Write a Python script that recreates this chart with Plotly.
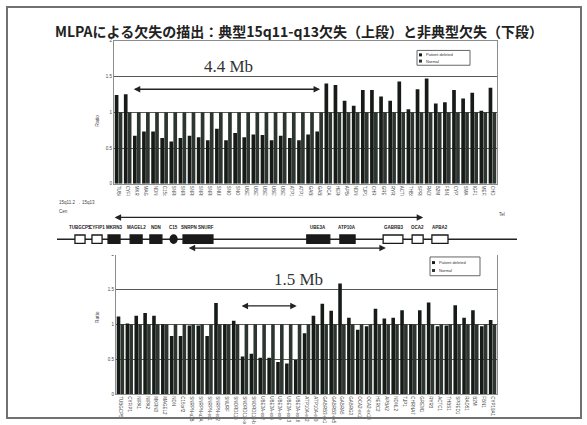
import plotly.graph_objects as go

W, H = 587, 425

# ---------------- MLPA data ----------------
top_probes = [
    "TUBGCP5", "CYFIP1", "MKRN3", "MAGEL2", "NDN", "C15orf2", "SNRPN-u1B",
    "SNRPN-u1A", "SNRPN-ex1", "SNRPN-ex2", "SNRPN-ex3", "SNURF", "SNORD116",
    "SNORD115", "UBE3A-ex2", "UBE3A-ex4", "UBE3A-ex9", "UBE3A-ex13",
    "UBE3A-ex16", "ATP10A-ex2", "ATP10A-ex9", "GABRB3-ex1", "GABRB3-ex5",
    "OCA2", "HERC2", "APBA2", "NDNL2", "TJP1", "CHRNA7", "GREM1", "RYR3",
    "ACTC1", "THBS1", "SPRED1", "RAD51", "B2M", "FBN1", "CYP19A1", "SMAD3",
    "IGF1R", "MEF2A", "CHD2",
]
top_patient = [
    1.24, 1.25, 0.67, 0.73, 0.73, 0.64, 0.59, 0.64, 0.67, 0.65, 0.61, 0.77,
    0.61, 0.71, 0.65, 0.69, 0.68, 0.61, 0.67, 0.64, 0.61, 0.69, 0.73,
    1.40, 1.38, 1.16, 1.09, 1.31, 1.31, 1.22, 1.16, 1.43, 1.04, 1.32, 1.47,
    1.12, 1.14, 1.31, 1.19, 1.27, 1.02, 1.34,
]
top_normal = [
    1.0, 1.0, 1.0, 1.0, 1.0, 1.0, 1.0, 1.0, 1.0, 1.0, 1.0, 1.0, 1.0, 1.0,
    1.0, 1.0, 1.0, 1.0, 1.0, 1.0, 1.0, 1.0, 1.0, 1.0, 1.0, 1.0, 1.0, 1.0,
    1.0, 1.0, 1.0, 1.0, 1.0, 1.0, 1.0, 1.0, 1.0, 1.0, 1.0, 1.0, 1.0, 1.0,
]

bottom_probes = [
    "TUBGCP5", "CYFIP1", "NIPA1", "NIPA2", "MKRN3", "MAGEL2", "NDN",
    "C15orf2", "SNRPN-u1B", "SNRPN-u1A", "SNRPN-ex1", "SNRPN-ex2", "SNURF",
    "SNORD116", "SNORD115-a", "SNORD115-b", "UBE3A-ex2", "UBE3A-ex4",
    "UBE3A-ex9", "UBE3A-ex13", "UBE3A-ex16", "ATP10A-ex2", "ATP10A-ex9",
    "GABRB3-ex1", "GABRB3-ex5", "GABRA5", "GABRG3", "OCA2-ex1", "OCA2-ex10",
    "HERC2", "APBA2", "NDNL2", "TJP1", "CHRNA7", "GREM1", "RYR3", "ACTC1",
    "THBS1", "SPRED1", "RAD51", "B2M", "FBN1", "CYP19A1",
]
bottom_patient = [
    1.11, 1.01, 1.12, 1.16, 1.12, 1.00, 0.83, 0.83, 0.98, 0.98, 0.83, 1.30,
    1.00, 1.05, 0.54, 0.58, 0.52, 0.52, 0.46, 0.44, 0.49, 0.87, 1.12, 1.29,
    1.19, 1.58, 1.09, 0.92, 0.97, 1.22, 1.08, 1.09, 1.20, 1.00, 1.20, 1.31,
    0.97, 0.98, 1.27, 1.09, 1.20, 0.97, 1.06,
]
bottom_normal = [
    1.0, 1.0, 1.0, 1.0, 1.0, 1.0, 1.0, 1.0, 1.0, 1.0, 1.0, 1.0, 1.0, 1.0,
    1.0, 1.0, 1.0, 1.0, 1.0, 1.0, 1.0, 1.0, 1.0, 1.0, 1.0, 1.0, 1.0, 1.0,
    1.0, 1.0, 1.0, 1.0, 1.0, 1.0, 1.0, 1.0, 1.0, 1.0, 1.0, 1.0, 1.0, 1.0,
    1.0,
]

y_ticks = [0, 0.5, 1, 1.5, 2]
y_ticktext = ["0", "0.5", "1", "1.5", "2"]

series_names = ["Patient deleted", "Normal"]

# deletion extents (category index from, to, ratio level) and their labels
top_span = (1.5, 22.1, 1.32)
top_span_label = "4.4 Mb"
bottom_span = (13.5, 19.9, 1.26)
bottom_span_label = "1.5 Mb"

# ---------------- 15q11-q13 gene map (schematic, map units 0-100) ----------------
gene_names = ["TUBGCP5", "CYFIP1", "MKRN3", "MAGEL2", "NDN", "C15", "SNRPN SNURF",
              "UBE3A", "ATP10A", "GABRB3", "OCA2", "APBA2"]
gene_start = [3.9, 7.6, 11.1, 15.9, 20.2, 24.6, 27.4, 54.3, 61.5, 70.9, 77.2, 81.5]
gene_end = [6.1, 9.8, 13.7, 18.5, 22.8, 26.1, 33.9, 59.3, 64.8, 75.2, 79.6, 85.0]
gene_filled = [False, False, True, True, True, True, True, True, True, False, False, False]
gene_round = [False, False, False, False, False, True, False, False, False, False, False, False]
typical_del = (12.2, 79.6)
atypical_del = (28.3, 71.5)

PATIENT_C = "#161b18"
NORMAL_C = "#2c3530"
GRID_C = "#555a57"
FRAME_C = "#8a8d8b"


def px(x):
    return x / W


def py(y):
    return 1 - y / H


fig = go.Figure()

fig.add_trace(go.Bar(x=top_probes, y=top_patient, name=series_names[0],
                     marker=dict(color=PATIENT_C, line=dict(width=0)),
                     xaxis="x", yaxis="y", showlegend=False))
fig.add_trace(go.Bar(x=top_probes, y=top_normal, name=series_names[1],
                     marker=dict(color=NORMAL_C, line=dict(width=0)),
                     xaxis="x", yaxis="y", showlegend=False))
fig.add_trace(go.Bar(x=bottom_probes, y=bottom_patient, name=series_names[0],
                     marker=dict(color=PATIENT_C, line=dict(width=0)),
                     xaxis="x2", yaxis="y2", showlegend=False))
fig.add_trace(go.Bar(x=bottom_probes, y=bottom_normal, name=series_names[1],
                     marker=dict(color=NORMAL_C, line=dict(width=0)),
                     xaxis="x2", yaxis="y2", showlegend=False))
# empty trace to register the gene-map axes
fig.add_trace(go.Scatter(x=[], y=[], xaxis="x3", yaxis="y3", showlegend=False,
                         hoverinfo="skip"))

tickfont = dict(family="Liberation Sans", size=4.5, color="#444")

xcommon = dict(type="category", showgrid=False, showline=True, linecolor=FRAME_C,
               linewidth=1, mirror=True, ticks="", tickangle=90, dtick=1,
               tickfont=tickfont, zeroline=False)
ycommon = dict(range=[0, 2], tickvals=y_ticks, ticktext=y_ticktext, showgrid=True,
               gridcolor=GRID_C, gridwidth=1, showline=True, linecolor=FRAME_C,
               linewidth=1, mirror=True, ticks="", zeroline=False,
               tickfont=tickfont)

fig.update_layout(
    width=W, height=H, autosize=False,
    margin=dict(l=0, r=0, t=0, b=0),
    paper_bgcolor="white", plot_bgcolor="white",
    barmode="group", bargap=0.14, bargroupgap=0.06,
    xaxis=dict(domain=[px(114), px(497)], anchor="y", **xcommon),
    yaxis=dict(domain=[py(184), py(39)], anchor="x", **ycommon),
    xaxis2=dict(domain=[px(116), px(497)], anchor="y2", **xcommon),
    yaxis2=dict(domain=[py(397), py(255)], anchor="x2", **ycommon),
    xaxis3=dict(domain=[px(57), px(517)], range=[0, 100], visible=False,
                anchor="y3", fixedrange=True),
    yaxis3=dict(domain=[py(256), py(196)], range=[0, 1], visible=False,
                anchor="x3", fixedrange=True),
)

shapes = []
annotations = []

# slide frame
shapes.append(dict(type="rect", xref="paper", yref="paper", x0=px(7), x1=px(581),
                   y0=py(421), y1=py(5), line=dict(color="#6f7270", width=2)))

# title
annotations.append(dict(
    xref="paper", yref="paper", x=px(299), y=py(17), showarrow=False,
    text="<b>MLPAによる欠失の描出：典型15q11-q13欠失（上段）と非典型欠失（下段）</b>",
    font=dict(family="Noto Sans CJK JP", size=14, color="#222")))

# y-axis captions
for yc in (112, 327):
    annotations.append(dict(xref="paper", yref="paper", x=px(92), y=py(yc),
                            showarrow=False, textangle=-90, text="Ratio",
                            font=dict(family="Liberation Sans", size=5, color="#444")))

# deletion arrows with size labels
for xa, ya, span, label, shift in (("x", "y", top_span, top_span_label, 0.3),
                                   ("x2", "y2", bottom_span, bottom_span_label, 3.4)):
    x0, x1, lvl = span
    annotations.append(dict(xref=xa, yref=ya, axref=xa, ayref=ya, x=x1, y=lvl,
                            ax=x0, ay=lvl, text="", showarrow=True, arrowhead=2,
                            startarrowhead=2, arrowside="end+start", arrowsize=1,
                            arrowwidth=1.3, arrowcolor="#222"))
    annotations.append(dict(xref=xa, yref=ya, x=(x0 + x1) / 2 + shift,
                            y=1.64, text=label, showarrow=False,
                            font=dict(family="Liberation Serif", size=17, color="#333")))

# legends
for (lx0, lx1, ly0, ly1) in ((417, 470, 49, 64), (430, 480, 258, 277)):
    shapes.append(dict(type="rect", xref="paper", yref="paper", x0=px(lx0), x1=px(lx1),
                       y0=py(ly1), y1=py(ly0), line=dict(color="#666", width=1),
                       fillcolor="white"))
    rows = (ly0 + (ly1 - ly0) * 0.3, ly0 + (ly1 - ly0) * 0.72)
    for ry, nm, col in zip(rows, series_names, (PATIENT_C, NORMAL_C)):
        shapes.append(dict(type="rect", xref="paper", yref="paper", x0=px(lx0 + 2),
                           x1=px(lx0 + 5), y0=py(ry + 1.5), y1=py(ry - 1.5),
                           fillcolor=col, line=dict(width=0)))
        annotations.append(dict(xref="paper", yref="paper", x=px(lx0 + 7), y=py(ry),
                                xanchor="left", yanchor="middle", showarrow=False,
                                text=nm, font=dict(family="Liberation Sans", size=4,
                                                   color="#333")))

# gene map
LINE_Y = 0.267
BOX_H = 0.07
shapes.append(dict(type="line", xref="x3", yref="y3", x0=0, x1=100, y0=LINE_Y,
                   y1=LINE_Y, line=dict(color="#222", width=1.5)))
for name, s, e, filled, rnd in zip(gene_names, gene_start, gene_end, gene_filled, gene_round):
    shapes.append(dict(type="circle" if rnd else "rect", xref="x3", yref="y3",
                       x0=s, x1=e, y0=LINE_Y - BOX_H, y1=LINE_Y + BOX_H,
                       fillcolor="#1a1a1a" if filled else "white",
                       line=dict(color="#1a1a1a", width=1.3)))
    annotations.append(dict(xref="x3", yref="y3", x=(s + e) / 2, y=0.467,
                            text="<b>" + name + "</b>", showarrow=False,
                            font=dict(family="Liberation Sans", size=4.5, color="#222")))
for (d0, d1), lvl in ((typical_del, 0.633), (atypical_del, 0.117)):
    annotations.append(dict(xref="x3", yref="y3", axref="x3", ayref="y3", x=d1, y=lvl,
                            ax=d0, ay=lvl, text="", showarrow=True, arrowhead=2,
                            startarrowhead=2, arrowside="end+start", arrowsize=1,
                            arrowwidth=1.3, arrowcolor="#222"))

annotations.append(dict(xref="paper", yref="paper", x=px(57), y=py(203), xanchor="left",
                        showarrow=False, text="15q11.2 → 15q13",
                        font=dict(family="Liberation Sans", size=4.5, color="#444")))
annotations.append(dict(xref="paper", yref="paper", x=px(57), y=py(212), xanchor="left",
                        showarrow=False, text="Cen",
                        font=dict(family="Liberation Sans", size=4.5, color="#444")))
annotations.append(dict(xref="paper", yref="paper", x=px(497), y=py(215), xanchor="left",
                        showarrow=False, text="Tel",
                        font=dict(family="Liberation Sans", size=4.5, color="#444")))

fig.update_layout(shapes=shapes, annotations=annotations)

fig.write_html("out.html")
